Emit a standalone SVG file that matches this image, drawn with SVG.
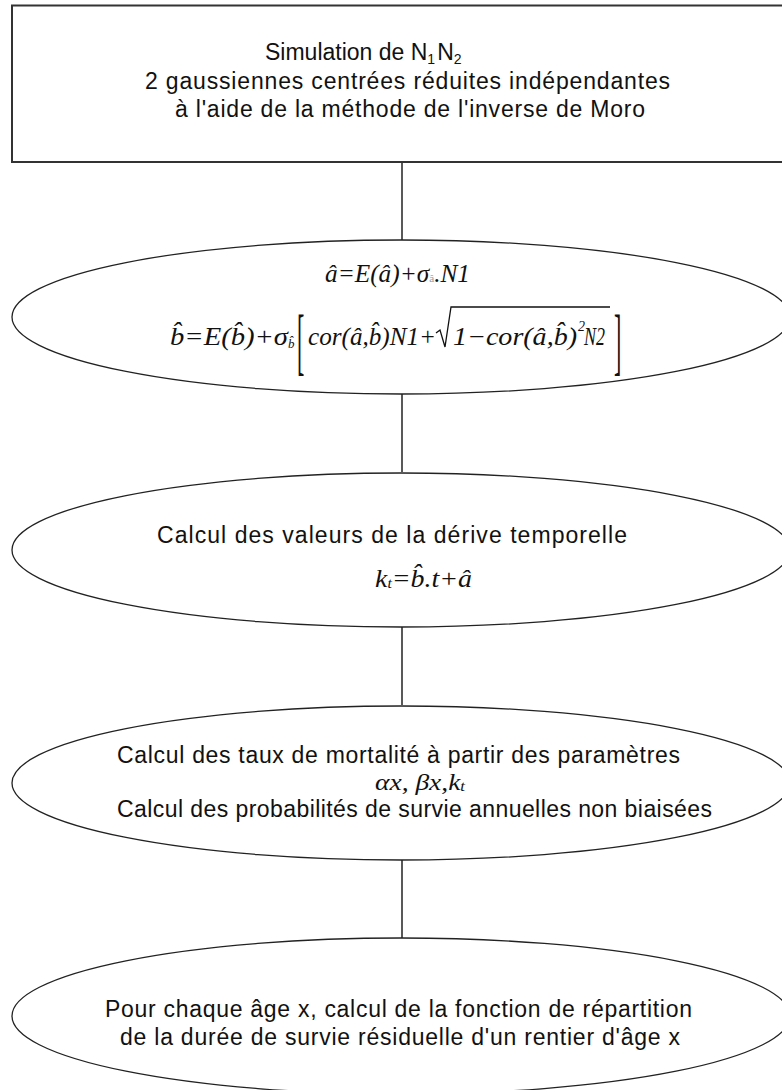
<svg xmlns="http://www.w3.org/2000/svg" width="782" height="1090" viewBox="0 0 782 1090">
<style>
.t{font-family:"Liberation Sans",Arial,sans-serif;font-size:23px;fill:#111}
.m{font-family:"Liberation Serif","Times New Roman",serif;font-style:italic;font-size:25px;fill:#111}
.br{font-family:"Liberation Serif","Times New Roman",serif;font-size:22px;fill:#111}
.sub{font-size:14px}
.node{fill:#fff;stroke:#222;stroke-width:1.3}
.edge{stroke:#222;stroke-width:1.5;fill:none}
.rad{stroke:#111;stroke-width:1.3;fill:none}
</style>
<rect width="782" height="1090" fill="#fff"/>
<g id="connectors">
<line class="edge" x1="402" y1="162" x2="402" y2="240"/>
<line class="edge" x1="402" y1="394" x2="402" y2="472"/>
<line class="edge" x1="402" y1="627" x2="402" y2="705"/>
<line class="edge" x1="402" y1="860" x2="402" y2="938"/>
</g>
<g id="n1">
<rect x="12" y="5.5" width="790" height="156.5" fill="#fff" stroke="#333" stroke-width="2"/>
<text class="t" x="265" y="60">Simulation de N<tspan class="sub" dy="4">1</tspan><tspan dy="-4" dx="2">N</tspan><tspan class="sub" dy="4">2</tspan></text>
<text class="t" x="145" y="89" textLength="525" lengthAdjust="spacing">2 gaussiennes centrées réduites indépendantes</text>
<text class="t" x="175" y="117" textLength="470" lengthAdjust="spacing">à l'aide de la méthode de l'inverse de Moro</text>
</g>
<g id="n2">
<ellipse class="node" cx="401" cy="317" rx="389" ry="77"/>
<text class="m" x="325" y="282" textLength="145" lengthAdjust="spacingAndGlyphs">â=E(â)+σ<tspan font-size="11" fill="#999" font-style="normal">â</tspan>.N1</text>
<text class="m" x="170" y="345" textLength="118" lengthAdjust="spacingAndGlyphs">b̂=E(b̂)+σ</text>
<text class="m" x="288" y="348" style="font-size:13px">b̂</text>
<text class="br" x="297" y="0" transform="translate(0,366) scale(1,3.4)">[</text>
<text class="m" x="308" y="345" textLength="128" lengthAdjust="spacingAndGlyphs">cor(â,b̂)N1+</text>
<polyline class="rad" points="436,333 440,330 445,347 451,307 610,307"/>
<text class="m" x="453" y="345" textLength="124" lengthAdjust="spacingAndGlyphs">1−cor(â,b̂)</text>
<text class="m" x="578" y="331" style="font-size:14px">2</text>
<text class="m" x="584" y="345" textLength="21" lengthAdjust="spacingAndGlyphs">N2</text>
<text class="br" x="614" y="0" transform="translate(0,366) scale(1,3.4)">]</text>
</g>
<g id="n3">
<ellipse class="node" cx="401" cy="550" rx="389" ry="77"/>
<text class="t" x="157" y="543" textLength="470" lengthAdjust="spacing">Calcul des valeurs de la dérive temporelle</text>
<text class="m" x="375" y="587" textLength="97" lengthAdjust="spacingAndGlyphs">k<tspan class="sub" dy="1">t</tspan><tspan dy="-1">=b̂.t+â</tspan></text>
</g>
<g id="n4">
<ellipse class="node" cx="401" cy="783" rx="389" ry="77"/>
<text class="t" x="117" y="763" textLength="563" lengthAdjust="spacing">Calcul des taux de mortalité à partir des paramètres</text>
<text class="m" x="375" y="790" style="font-size:23px" textLength="90" lengthAdjust="spacingAndGlyphs">αx, βx,k<tspan class="sub" dy="1">t</tspan></text>
<text class="t" x="117" y="817" textLength="595" lengthAdjust="spacing">Calcul des probabilités de survie annuelles non biaisées</text>
</g>
<g id="n5">
<ellipse class="node" cx="401" cy="1016" rx="389" ry="78"/>
<text class="t" x="105" y="1017" textLength="587" lengthAdjust="spacing">Pour chaque âge x, calcul de la fonction de répartition</text>
<text class="t" x="120" y="1045" textLength="560" lengthAdjust="spacing">de la durée de survie résiduelle d'un rentier d'âge x</text>
</g>
</svg>
